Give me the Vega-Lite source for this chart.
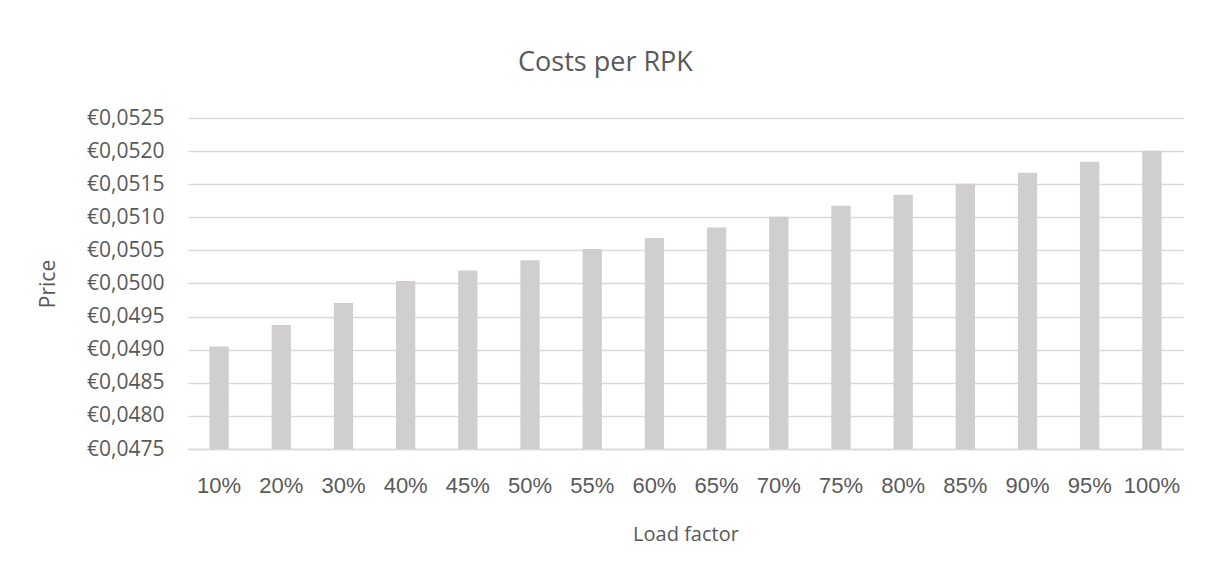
{
  "$schema": "https://vega.github.io/schema/vega-lite/v6.json",
  "width": 995,
  "height": 331,
  "autosize": {"type": "none"},
  "padding": {"left": 188, "top": 118, "right": 29, "bottom": 132},
  "background": "white",
  "title": {
    "text": "Costs per RPK",
    "font": "Open Sans",
    "fontSize": 27,
    "fontWeight": "normal",
    "color": "#595959",
    "anchor": "middle",
    "dx": -80,
    "offset": 30
  },
  "data": {
    "values": [
      {"lf": "10%", "price": 0.04905},
      {"lf": "20%", "price": 0.049375},
      {"lf": "30%", "price": 0.049707},
      {"lf": "40%", "price": 0.050036},
      {"lf": "45%", "price": 0.050196},
      {"lf": "50%", "price": 0.050353},
      {"lf": "55%", "price": 0.05052},
      {"lf": "60%", "price": 0.050686},
      {"lf": "65%", "price": 0.050846},
      {"lf": "70%", "price": 0.051008},
      {"lf": "75%", "price": 0.051174},
      {"lf": "80%", "price": 0.05134},
      {"lf": "85%", "price": 0.051507},
      {"lf": "90%", "price": 0.051673},
      {"lf": "95%", "price": 0.05184},
      {"lf": "100%", "price": 0.052006}
    ]
  },
  "mark": {"type": "bar", "color": "#d0cece", "clip": true},
  "encoding": {
    "x": {
      "field": "lf",
      "type": "ordinal",
      "sort": null,
      "scale": {"paddingInner": 0.69, "paddingOuter": 0.345},
      "axis": {
        "title": "Load factor",
        "labelAngle": 0,
        "labelFont": "Liberation Sans",
        "labelFontSize": 22,
        "labelColor": "#595959",
        "labelPadding": 26,
        "ticks": false,
        "domainColor": "#d9d9d9",
        "domainWidth": 1.3,
        "titleFont": "Open Sans",
        "titleFontSize": 20,
        "titleFontWeight": "normal",
        "titleColor": "#595959",
        "titlePadding": 28
      }
    },
    "y": {
      "field": "price",
      "type": "quantitative",
      "scale": {"domain": [0.0475, 0.0525], "nice": false, "zero": false},
      "axis": {
        "title": "Price",
        "values": [0.0475, 0.048, 0.0485, 0.049, 0.0495, 0.05, 0.0505, 0.051, 0.0515, 0.052, 0.0525],
        "labelExpr": "'€' + replace(format(datum.value, '.4f'), '.', ',')",
        "labelFont": "Open Sans",
        "labelFontSize": 21,
        "labelColor": "#595959",
        "labelPadding": 24,
        "ticks": false,
        "domain": false,
        "grid": true,
        "gridColor": "#d9d9d9",
        "gridWidth": 1.3,
        "titleFont": "Open Sans",
        "titleFontSize": 21,
        "titleFontWeight": "normal",
        "titleColor": "#595959",
        "titlePadding": 28
      }
    }
  },
  "config": {
    "view": {"stroke": null}
  }
}
